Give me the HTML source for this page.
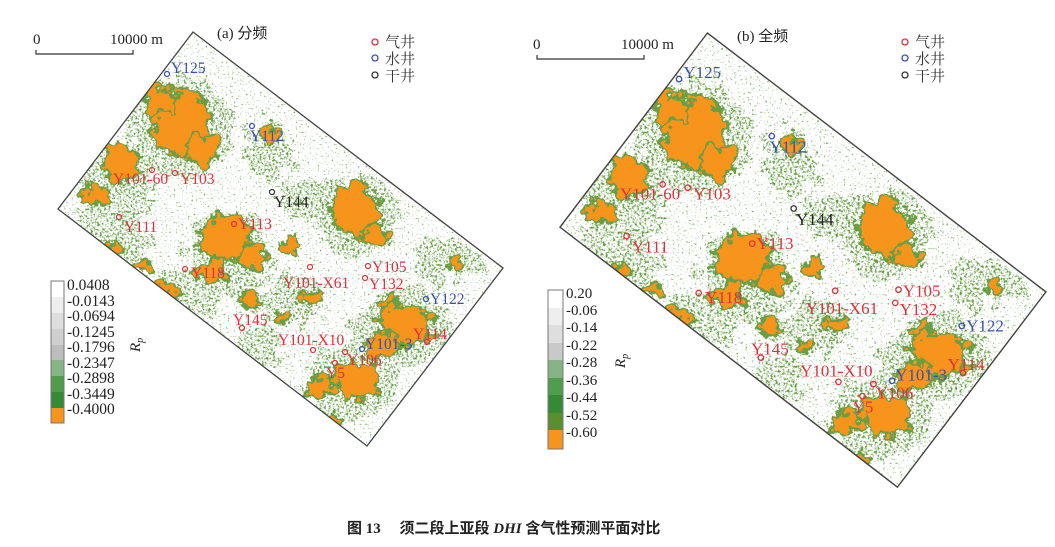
<!DOCTYPE html>
<html><head><meta charset="utf-8"><style>
html,body{margin:0;padding:0;background:#fff;width:1055px;height:547px;overflow:hidden;}
svg{display:block;}
text{font-family:"Liberation Serif","Noto Serif CJK SC",serif;}
.cj{font-family:"Liberation Sans","Noto Sans CJK SC",sans-serif;}
</style></head><body>
<svg width="1055" height="547" viewBox="0 0 1055 547" xmlns="http://www.w3.org/2000/svg">
<defs>
<clipPath id="cl"><polygon points="193,32 58,209 367,446 503,268"/></clipPath>
<filter id="rough" filterUnits="userSpaceOnUse" x="0" y="0" width="1055" height="547">
 <feTurbulence type="fractalNoise" baseFrequency="0.09" numOctaves="3" seed="7" result="t"/>
 <feDisplacementMap in="SourceGraphic" in2="t" scale="24" xChannelSelector="R" yChannelSelector="G"/>
</filter>
<filter id="rough2" filterUnits="userSpaceOnUse" x="0" y="0" width="1055" height="547">
 <feTurbulence type="fractalNoise" baseFrequency="0.05" numOctaves="3" seed="2" result="t"/>
 <feDisplacementMap in="SourceGraphic" in2="t" scale="45" xChannelSelector="R" yChannelSelector="G"/>
</filter>
<filter id="speck" filterUnits="userSpaceOnUse" x="0" y="0" width="1055" height="547">
 <feTurbulence type="fractalNoise" baseFrequency="0.45" numOctaves="2" seed="3" result="n"/>
 <feColorMatrix in="n" type="matrix" values="0 0 0 0 0 0 0 0 0 0 0 0 0 0 0 4 0 0 0 -1.9" result="m"/>
 <feComposite in="SourceGraphic" in2="m" operator="in"/>
</filter>
<filter id="speck2" filterUnits="userSpaceOnUse" x="0" y="0" width="1055" height="547">
 <feTurbulence type="fractalNoise" baseFrequency="0.5" numOctaves="2" seed="11" result="n"/>
 <feColorMatrix in="n" type="matrix" values="0 0 0 0 0 0 0 0 0 0 0 0 0 0 0 5 0 0 0 -3.1" result="m"/>
 <feComposite in="SourceGraphic" in2="m" operator="in"/>
</filter>
<g id="map">
 <g clip-path="url(#cl)">
  <rect x="0" y="0" width="1055" height="547" fill="#fff"/>
  <rect x="0" y="0" width="1055" height="547" fill="#7aa858" filter="url(#speck2)"/>
  <g filter="url(#speck)"><g fill="#5e9a3c" filter="url(#rough2)">
   <ellipse cx="180" cy="125" rx="50" ry="50"/>
   <ellipse cx="115" cy="180" rx="40" ry="35"/>
   <ellipse cx="110" cy="240" rx="40" ry="30"/>
   <ellipse cx="230" cy="250" rx="45" ry="40"/>
   <ellipse cx="355" cy="215" rx="45" ry="40"/>
   <ellipse cx="400" cy="330" rx="50" ry="40"/>
   <ellipse cx="350" cy="380" rx="45" ry="40"/>
   <ellipse cx="290" cy="300" rx="35" ry="25"/>
   <ellipse cx="190" cy="290" rx="35" ry="22"/>
   <ellipse cx="270" cy="150" rx="25" ry="25"/>
   <ellipse cx="450" cy="260" rx="35" ry="22"/>
   <ellipse cx="260" cy="350" rx="25" ry="25"/>
   <ellipse cx="300" cy="200" rx="20" ry="18"/>
  </g></g>
  <g fill="#f7941d" stroke="#6a9e45" stroke-width="3" filter="url(#rough)">
   <ellipse cx="180" cy="122" rx="28" ry="34"/>
   <ellipse cx="160" cy="100" rx="16" ry="14"/>
   <ellipse cx="202" cy="150" rx="16" ry="16"/>
   <ellipse cx="120" cy="163" rx="18" ry="20"/>
   <ellipse cx="95" cy="196" rx="13" ry="10"/>
   <ellipse cx="225" cy="238" rx="26" ry="23"/>
   <ellipse cx="252" cy="256" rx="14" ry="13"/>
   <ellipse cx="212" cy="272" rx="14" ry="11"/>
   <ellipse cx="355" cy="210" rx="23" ry="26"/>
   <ellipse cx="377" cy="236" rx="14" ry="11"/>
   <ellipse cx="405" cy="325" rx="27" ry="21"/>
   <ellipse cx="382" cy="346" rx="17" ry="14"/>
   <ellipse cx="357" cy="380" rx="24" ry="19"/>
   <ellipse cx="320" cy="386" rx="14" ry="11"/>
   <ellipse cx="310" cy="300" rx="13" ry="9"/>
   <ellipse cx="167" cy="291" rx="14" ry="7"/>
   <ellipse cx="250" cy="300" rx="9" ry="7"/>
   <ellipse cx="290" cy="246" rx="9" ry="7"/>
   <ellipse cx="332" cy="420" rx="10" ry="7"/>
   <ellipse cx="272" cy="135" rx="9" ry="7"/>
   <ellipse cx="110" cy="250" rx="10" ry="7"/>
   <ellipse cx="140" cy="265" rx="9" ry="6"/>
   <ellipse cx="280" cy="318" rx="8" ry="6"/>
   <ellipse cx="455" cy="262" rx="8" ry="6"/>
   <ellipse cx="390" cy="300" rx="8" ry="6"/>
  </g>
 </g>
 <polygon points="193,32 58,209 367,446 503,268" fill="none" stroke="#444" stroke-width="1.3"/>
 <g fill="none" stroke-width="1.2">
  <circle cx="167" cy="74" r="2.5" stroke="#3a4fb0"/>
  <circle cx="252" cy="126" r="2.5" stroke="#3a4fb0"/>
  <circle cx="152" cy="170" r="2.5" stroke="#e0303f"/>
  <circle cx="175" cy="173" r="2.5" stroke="#e0303f"/>
  <circle cx="272" cy="192" r="2.5" stroke="#333"/>
  <circle cx="119" cy="217" r="2.5" stroke="#e0303f"/>
  <circle cx="234" cy="224" r="2.5" stroke="#e0303f"/>
  <circle cx="185" cy="269" r="2.5" stroke="#e0303f"/>
  <circle cx="368" cy="266" r="2.5" stroke="#e0303f"/>
  <circle cx="310" cy="267" r="2.5" stroke="#e0303f"/>
  <circle cx="365" cy="278" r="2.5" stroke="#e0303f"/>
  <circle cx="426" cy="299" r="2.5" stroke="#3a4fb0"/>
  <circle cx="242" cy="328" r="2.5" stroke="#e0303f"/>
  <circle cx="427" cy="342" r="2.5" stroke="#e0303f"/>
  <circle cx="313" cy="350" r="2.5" stroke="#e0303f"/>
  <circle cx="362" cy="349" r="2.5" stroke="#3a4fb0"/>
  <circle cx="345" cy="352" r="2.5" stroke="#e0303f"/>
  <circle cx="335" cy="363" r="2.5" stroke="#e0303f"/>
 </g>
 <g font-size="15.5" fill="#e0303f">
  <text x="171" y="73" fill="#3a4fb0">Y125</text>
  <text x="250" y="141" fill="#3a4fb0">Y112</text>
  <text x="113" y="184">Y101-60</text>
  <text x="180" y="184">Y103</text>
  <text x="274" y="207" fill="#222">Y144</text>
  <text x="124" y="232">Y111</text>
  <text x="238" y="229">Y113</text>
  <text x="191" y="278">Y118</text>
  <text x="372" y="272">Y105</text>
  <text x="283" y="288">Y101-X61</text>
  <text x="369" y="289">Y132</text>
  <text x="430" y="304" fill="#3a4fb0">Y122</text>
  <text x="233" y="325">Y145</text>
  <text x="413" y="339">Y114</text>
  <text x="278" y="345">Y101-X10</text>
  <text x="365" y="349" fill="#3a4fb0">Y101-3</text>
  <text x="347" y="365">Y106</text>
  <text x="326" y="378">Y5</text>
 </g>
</g>
</defs>

<use href="#map"/>
<g transform="translate(560,33) scale(1.092,1.097) translate(-58,-32)"><use href="#map"/></g>

<g font-size="15" fill="#222">
 <text x="33" y="44">0</text><text x="110" y="44">10000 m</text>
 <text x="533" y="49">0</text><text x="621" y="49">10000 m</text>
</g>
<path d="M36 50 V54 H133 V50" fill="none" stroke="#333" stroke-width="1.2"/>
<path d="M537 55 V59 H644 V55" fill="none" stroke="#333" stroke-width="1.2"/>

<text x="217" y="38" font-size="15" fill="#222">(a) <tspan class="cj">分频</tspan></text>
<text x="737" y="41" font-size="15" fill="#222">(b) <tspan class="cj">全频</tspan></text>

<g fill="none" stroke-width="1.3">
 <circle cx="375" cy="42" r="3" stroke="#e0303f"/><circle cx="375" cy="58" r="3" stroke="#3a4fb0"/><circle cx="375" cy="75" r="3" stroke="#333"/>
 <circle cx="905" cy="42" r="3" stroke="#e0303f"/><circle cx="905" cy="58" r="3" stroke="#3a4fb0"/><circle cx="905" cy="75" r="3" stroke="#333"/>
</g>
<g class="cj" font-size="15" fill="#333">
 <text x="385" y="47">气井</text><text x="385" y="64">水井</text><text x="385" y="81">干井</text>
 <text x="915" y="47">气井</text><text x="915" y="64">水井</text><text x="915" y="81">干井</text>
</g>

<g>
 <rect x="51" y="281" width="13" height="16" fill="#ffffff"/>
 <rect x="51" y="297" width="13" height="16" fill="#eeeeee"/>
 <rect x="51" y="313" width="13" height="16" fill="#dedede"/>
 <rect x="51" y="329" width="13" height="16" fill="#cfcfcf"/>
 <rect x="51" y="345" width="13" height="15" fill="#bdbdbd"/>
 <rect x="51" y="360" width="13" height="16" fill="#85b585"/>
 <rect x="51" y="376" width="13" height="16" fill="#4e9e4e"/>
 <rect x="51" y="392" width="13" height="16" fill="#368a36"/>
 <rect x="51" y="408" width="13" height="15" fill="#f7941d"/>
</g>
<rect x="51" y="281" width="13" height="142" fill="none" stroke="#777" stroke-width="1"/>
<g font-size="15.5" fill="#222">
 <text x="67" y="290">0.0408</text><text x="67" y="306">-0.0143</text><text x="67" y="321">-0.0694</text>
 <text x="67" y="337">-0.1245</text><text x="67" y="352">-0.1796</text><text x="67" y="368">-0.2347</text>
 <text x="67" y="383">-0.2898</text><text x="67" y="399">-0.3449</text><text x="67" y="414">-0.4000</text>
</g>
<text transform="translate(140,352) rotate(-90)" font-size="15" font-style="italic" fill="#222">R<tspan font-size="10" dy="3">p</tspan></text>

<g>
 <rect x="548" y="290" width="15" height="18" fill="#ffffff"/>
 <rect x="548" y="308" width="15" height="17" fill="#eeeeee"/>
 <rect x="548" y="325" width="15" height="18" fill="#dedede"/>
 <rect x="548" y="343" width="15" height="17" fill="#c9c9c9"/>
 <rect x="548" y="360" width="15" height="18" fill="#85b585"/>
 <rect x="548" y="378" width="15" height="17" fill="#4e9e4e"/>
 <rect x="548" y="395" width="15" height="18" fill="#368a36"/>
 <rect x="548" y="413" width="15" height="17" fill="#5a8f2f"/>
 <rect x="548" y="430" width="15" height="19" fill="#f7941d"/>
</g>
<rect x="548" y="290" width="15" height="159" fill="none" stroke="#777" stroke-width="1"/>
<g font-size="15" fill="#222">
 <text x="566" y="298">0.20</text><text x="566" y="315">-0.06</text><text x="566" y="332">-0.14</text>
 <text x="566" y="350">-0.22</text><text x="566" y="367">-0.28</text><text x="566" y="385">-0.36</text>
 <text x="566" y="402">-0.44</text><text x="566" y="420">-0.52</text><text x="566" y="437">-0.60</text>
</g>
<text transform="translate(625,368) rotate(-90)" font-size="15" font-style="italic" fill="#222">R<tspan font-size="10" dy="3">p</tspan></text>

<text x="347" y="533" font-size="15" font-weight="bold" fill="#222"><tspan class="cj">图</tspan> 13　 <tspan class="cj">须二段上亚段</tspan> <tspan font-style="italic">DHI</tspan> <tspan class="cj">含气性预测平面对比</tspan></text>
</svg>
</body></html>
